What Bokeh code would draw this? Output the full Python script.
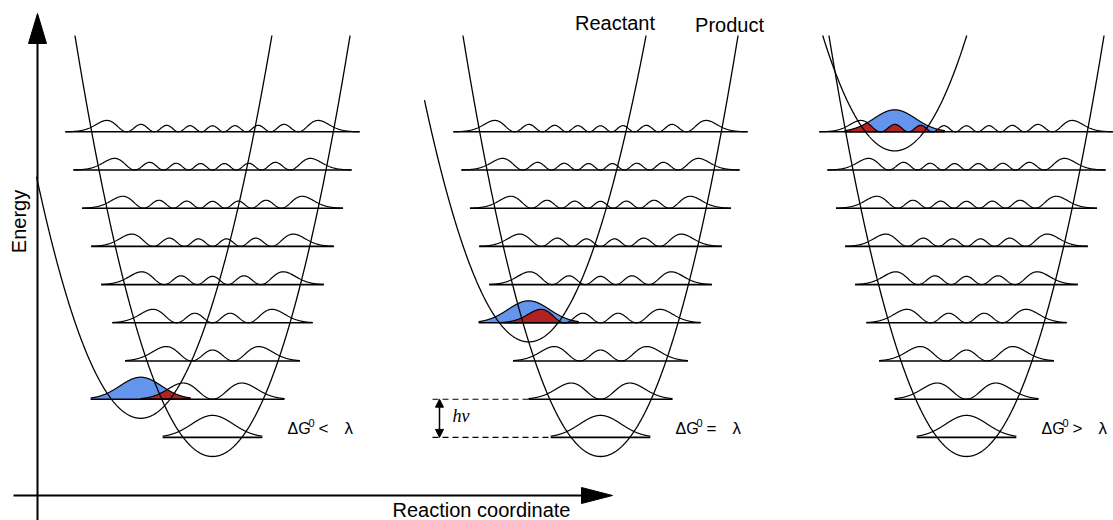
import numpy as np
from bokeh.plotting import figure
from bokeh.models import Range1d, Arrow, NormalHead, Label
from bokeh.embed import file_html
from bokeh.resources import INLINE

# ---------------- data ----------------
relations = ["<", "=", ">"]          # ΔG0 vs λ in each panel
driving_force = [1, 3, 8]            # ΔG0 of each panel, in vibrational quanta
reorganization = 3                   # λ, in vibrational quanta
product_levels = list(range(9))      # vibrational levels n = 0..8 drawn on the product well
reactant_level = 0                   # only the reactant ground state is drawn
top_labels = ["Reactant", "Product"]
axis_labels = ["Energy", "Reaction coordinate"]

# ---------------- layout (pixels) ----------------
W, H = 1113, 520
panel_cx = [212, 600, 966]     # x of product-well minimum in each panel
HW = 38.2                      # one vibrational quantum, px
L = 29.3                       # oscillator length unit, px
BASE = 64                      # y of product-well minimum
TOP = 485                      # y where parabola arms stop
AMP = 39                       # px per unit |psi|^2
CLIP = 176                     # left clip of reactant arm from panel centre
FONT = "Liberation Sans"
BLUE = "#6495ED"
RED = "#B22222"
TY = 7                         # text baseline correction

p = figure(width=W, height=H, x_range=Range1d(0, W), y_range=Range1d(0, H),
           output_backend="svg", toolbar_location=None, min_border=0,
           x_axis_type=None, y_axis_type=None)
p.xgrid.visible = False
p.ygrid.visible = False
p.outline_line_color = None
p.background_fill_color = "white"
p.border_fill_color = "white"


def psi(n, xi):
    a = np.pi ** -0.25 * np.exp(-xi ** 2 / 2)
    if n == 0:
        return a
    b = np.sqrt(2) * xi * a
    for k in range(1, n):
        a, b = b, np.sqrt(2 / (k + 1)) * xi * b - np.sqrt(k / (k + 1)) * a
    return b


def half_width(n):
    return np.sqrt(2 * n + 1) + 0.7 + 0.025 * n


def label(x, y, text, size, font=FONT, **kw):
    p.add_layout(Label(x=x, y=y + TY, text=text, text_font=font, text_font_size=size,
                       text_color="black", text_baseline="alphabetic", **kw))


R0_W = 1.71
d = np.sqrt(2 * reorganization)      # displacement of reactant well (xi units)

wave_xs, wave_ys = [], []
base_x0, base_x1, base_y = [], [], []
par_xs, par_ys = [], []

for i, cx in enumerate(panel_cx):
    dg = driving_force[i]
    cr = cx - d * L
    vr = BASE + dg * HW
    # product levels
    for n in product_levels:
        w = half_width(n)
        xi = np.linspace(-w, w, 500)
        yb = BASE + (n + 0.5) * HW
        wave_xs.append(list(cx + xi * L))
        wave_ys.append(list(yb + AMP * psi(n, xi) ** 2))
        base_x0.append(cx - w * L); base_x1.append(cx + w * L); base_y.append(yb)
    # reactant ground state
    ybr = vr + (reactant_level + 0.5) * HW
    xr = np.linspace(-R0_W, R0_W, 500)
    xb = cr + xr * L
    yblue = AMP * psi(reactant_level, xr) ** 2
    base_x0.append(cr - R0_W * L); base_x1.append(cr + R0_W * L); base_y.append(ybr)
    # overlap with product level of same energy
    m = dg
    xip = (xb - cx) / L
    mask = np.abs(xip) <= half_width(m)
    yred = np.minimum(yblue, AMP * psi(m, xip) ** 2)
    p.varea(x=xb, y1=np.full_like(xb, ybr), y2=ybr + yblue, fill_color=BLUE)
    p.varea(x=xb[mask], y1=np.full(mask.sum(), ybr), y2=ybr + yred[mask], fill_color=RED)
    wave_xs.append(list(xb)); wave_ys.append(list(ybr + yblue))
    # parabolas
    hp = np.sqrt((TOP - BASE) / (0.5 * HW)) * L
    xp = np.linspace(cx - hp, cx + hp, 600)
    par_xs.append(list(xp)); par_ys.append(list(BASE + 0.5 * ((xp - cx) / L) ** 2 * HW))
    hr = np.sqrt((TOP - vr) / (0.5 * HW)) * L
    xq = np.linspace(max(cr - hr, cx - CLIP), cr + hr, 600)
    par_xs.append(list(xq)); par_ys.append(list(vr + 0.5 * ((xq - cr) / L) ** 2 * HW))

    # ΔG label
    x0 = cx + 75
    label(x0, 85, "ΔG", "16px")
    label(x0 + 21, 91, "0", "11px")
    label(x0 + 31, 85, relations[i], "17px")
    label(x0 + 57, 85, "λ", "17px")

p.multi_line(wave_xs, wave_ys, line_color="black", line_width=1.2)
p.segment(x0=base_x0, y0=base_y, x1=base_x1, y1=base_y, line_color="black", line_width=1.6)
p.multi_line(par_xs, par_ys, line_color="black", line_width=1.3)

# hv marker in panel 2
cx2 = panel_cx[1]
y0l = BASE + 0.5 * HW
y1l = BASE + 1.5 * HW
p.segment(x0=[432, 432], y0=[y1l, y0l], x1=[cx2 - half_width(1) * L, cx2 - half_width(0) * L],
          y1=[y1l, y0l], line_color="black", line_width=1.1, line_dash="6 4")
p.add_layout(Arrow(start=NormalHead(size=8, fill_color="black", line_color="black"),
                   end=NormalHead(size=8, fill_color="black", line_color="black"),
                   x_start=439, y_start=y0l, x_end=439, y_end=y1l, line_width=1.5))
label(452, 98, "hν", "18px", font="Liberation Serif", text_font_style="italic")

# axes
p.segment(x0=[37, 13], y0=[0, 25], x1=[37, 582], y1=[478, 25], line_color="black", line_width=2)
p.patch(x=[28, 46, 37], y=[477, 477, 507], fill_color="black", line_color="black")
p.patch(x=[581, 581, 612], y=[33, 17, 25], fill_color="black", line_color="black")

p.add_layout(Label(x=18, y=299, text=axis_labels[0], text_font=FONT, text_font_size="20px",
                   angle=np.pi / 2, text_align="center", text_baseline="alphabetic", text_color="black"))
label(481, 4, axis_labels[1], "20px", text_align="center")
label(614.5, 491, top_labels[0], "20px", text_align="center")
label(729, 489, top_labels[1], "20px", text_align="center")

open("out.html", "w").write(file_html(p, INLINE))
